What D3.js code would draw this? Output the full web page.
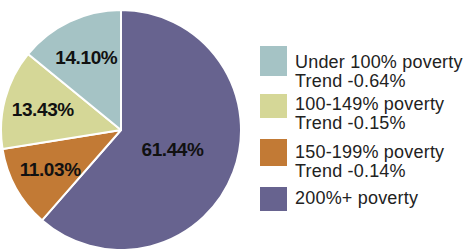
<!DOCTYPE html>
<html><head><meta charset="utf-8">
<script src="https://cdn.jsdelivr.net/npm/d3@7"></script>
<style>html,body{margin:0;padding:0;background:#fff;}svg{display:block;}</style>
</head><body>
<svg id="c" width="464" height="249"></svg>
<script>
const categories = ["200%+ poverty", "150-199% poverty", "100-149% poverty", "Under 100% poverty"];
const values = [61.44, 11.03, 13.43, 14.10];
const trends = ["", "Trend -0.14%", "Trend -0.15%", "Trend -0.64%"];
const colors = ["#67638f", "#c27a35", "#d5d797", "#a5c3c5"];
const legendOrder = [3, 2, 1, 0];

const svg = d3.select("#c");
const cx = 121, cy = 130, r = 120;
const g = svg.append("g").attr("transform", `translate(${cx},${cy})`);
const pie = d3.pie().sort(null).value(d => d)(values);
const arc = d3.arc().innerRadius(0).outerRadius(r);
g.selectAll("path").data(pie).enter().append("path")
  .attr("d", arc).attr("fill", (d,i) => colors[i])
  .attr("stroke", "#fff").attr("stroke-width", 2).attr("stroke-linejoin","round");
g.selectAll("text").data(pie).enter().append("text")
  .attr("transform", d => {
    const lr = d.data > 50 ? 55 : 81;
    const c = d3.arc().innerRadius(lr).outerRadius(lr).centroid(d);
    return `translate(${c[0]},${c[1]})`;
  })
  .attr("text-anchor", "middle").attr("dy", "0.36em")
  .attr("font-family", "'Liberation Sans', Arial, sans-serif")
  .attr("font-weight", "bold").attr("font-size", 19).attr("fill", "#111")
  .attr("letter-spacing", -0.4)
  .text(d => d3.format(".2f")(d.data) + "%");

// legend
const boxTops = [46, 94, 139, 187];
const boxH = [30, 24, 27, 24];
const base1 = [68, 110, 158, 204];
const lg = svg.append("g");
legendOrder.forEach((idx, k) => {
  lg.append("rect").attr("x", 260).attr("y", boxTops[k]).attr("width", 27).attr("height", boxH[k])
    .attr("fill", colors[idx]);
  const t = lg.append("text").attr("x", 295).attr("y", base1[k])
    .attr("font-family", "'Liberation Sans', Arial, sans-serif").attr("font-size", 18)
    .attr("letter-spacing", 0.2)
    .attr("fill", "#222");
  t.append("tspan").attr("x", 295).text(categories[idx]);
  if (trends[idx]) t.append("tspan").attr("x", 295).attr("dy", 19.3).text(trends[idx]);
});
</script>
</body></html>
